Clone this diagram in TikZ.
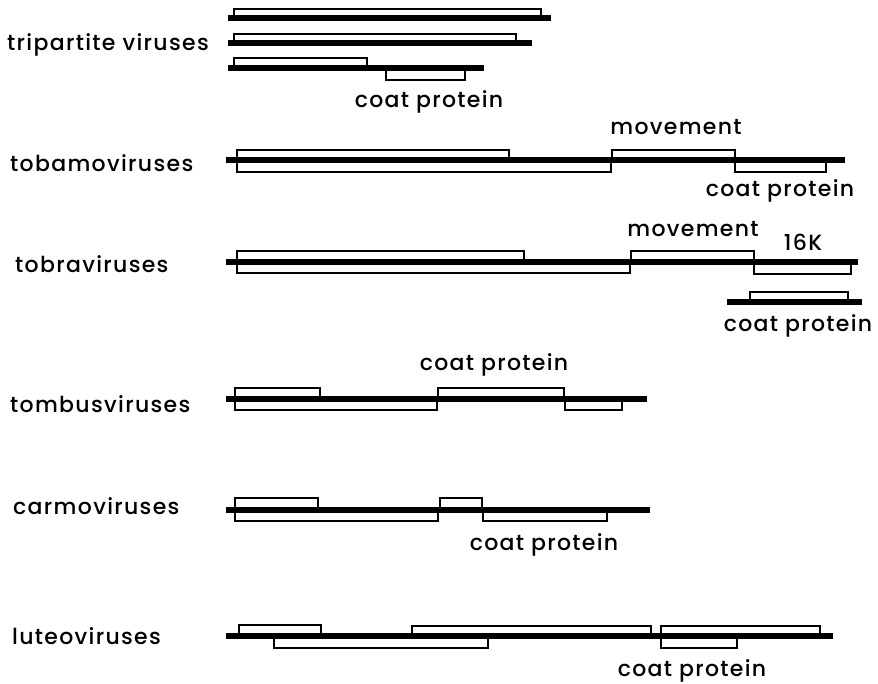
\documentclass[tikz,border=0pt]{standalone}
\usepackage{fontspec}
\setmainfont{Poppins}[LetterSpace=6,UprightFont={* Medium}]
\begin{document}
\begin{tikzpicture}[x=1pt,y=-1pt,
  genome/.style={line width=5.4pt},
  orf/.style={line width=1.4pt},
  lbl/.style={font=\fontsize{22}{24}\selectfont, inner sep=0pt},
  glbl/.style={font=\fontsize{22}{24}\selectfont, inner sep=0pt, anchor=west}]
\useasboundingbox (0,0) rectangle (878,684);
% ---------- tripartite
\node[glbl] (tri) at (7,45) {tripartite viruses};
\draw[orf] (234,18) rectangle (541,9);
\draw[orf] (234,43) rectangle (516,34);
\draw[orf] (234,68) rectangle (367,58);
\draw[orf] (386,68) rectangle (465,80);
\draw[genome] (228,18) -- (551,18);
\draw[genome] (228,43) -- (532,43);
\draw[genome] (228,68) -- (484,68);
\node[lbl] (tricp) at (429,102) {coat protein};
% ---------- tobamo
\node[glbl] (tbm) at (10,163) {tobamoviruses};
\draw[orf] (237,160) rectangle (509,150);
\draw[orf] (237,160) rectangle (611,172);
\draw[orf] (612,160) rectangle (735,150);
\draw[orf] (735,160) rectangle (826,172);
\draw[genome] (226,160) -- (845,160);
\node[lbl] (tbmmv) at (676,127) {movement};
\node[lbl] (tbmcp) at (780,191) {coat protein};
% ---------- tobra
\node[glbl] (tbr) at (15,264) {tobraviruses};
\draw[orf] (237,262) rectangle (524,251);
\draw[orf] (237,262) rectangle (630,273);
\draw[orf] (631,262) rectangle (754,251);
\draw[orf] (754,262) rectangle (851,274);
\draw[genome] (226,262) -- (858,262);
\draw[orf] (750,302) rectangle (848,292);
\draw[genome] (727,302) -- (862,302);
\node[lbl] (tbrmv) at (693,229) {movement};
\node[lbl] (tbr16) at (803,242) {16K};
\node[lbl] (tbrcp) at (798,326) {coat protein};
% ---------- tombus
\node[glbl] (tmb) at (10,404) {tombusviruses};
\draw[orf] (235,399) rectangle (320,388);
\draw[orf] (235,399) rectangle (437,410);
\draw[orf] (438,399) rectangle (564,388);
\draw[orf] (565,399) rectangle (622,410);
\draw[genome] (226,399) -- (647,399);
\node[lbl] (tmbcp) at (494,365) {coat protein};
% ---------- carmo
\node[glbl] (crm) at (13,506) {carmoviruses};
\draw[orf] (235,510) rectangle (318,498);
\draw[orf] (235,510) rectangle (438,521);
\draw[orf] (440,510) rectangle (482,498);
\draw[orf] (483,510) rectangle (607,521);
\draw[genome] (226,510) -- (650,510);
\node[lbl] (crmcp) at (544,545) {coat protein};
% ---------- luteo
\node[glbl] (lut) at (12,636) {luteoviruses};
\draw[orf] (239,636) rectangle (321,625);
\draw[orf] (274,636) rectangle (488,648);
\draw[orf] (412,636) rectangle (651,626);
\draw[orf] (661,636) rectangle (820,626);
\draw[orf] (661,636) rectangle (737,648);
\draw[genome] (226,636) -- (833,636);
\node[lbl] (lutcp) at (692,671) {coat protein};
\end{tikzpicture}
\end{document}
